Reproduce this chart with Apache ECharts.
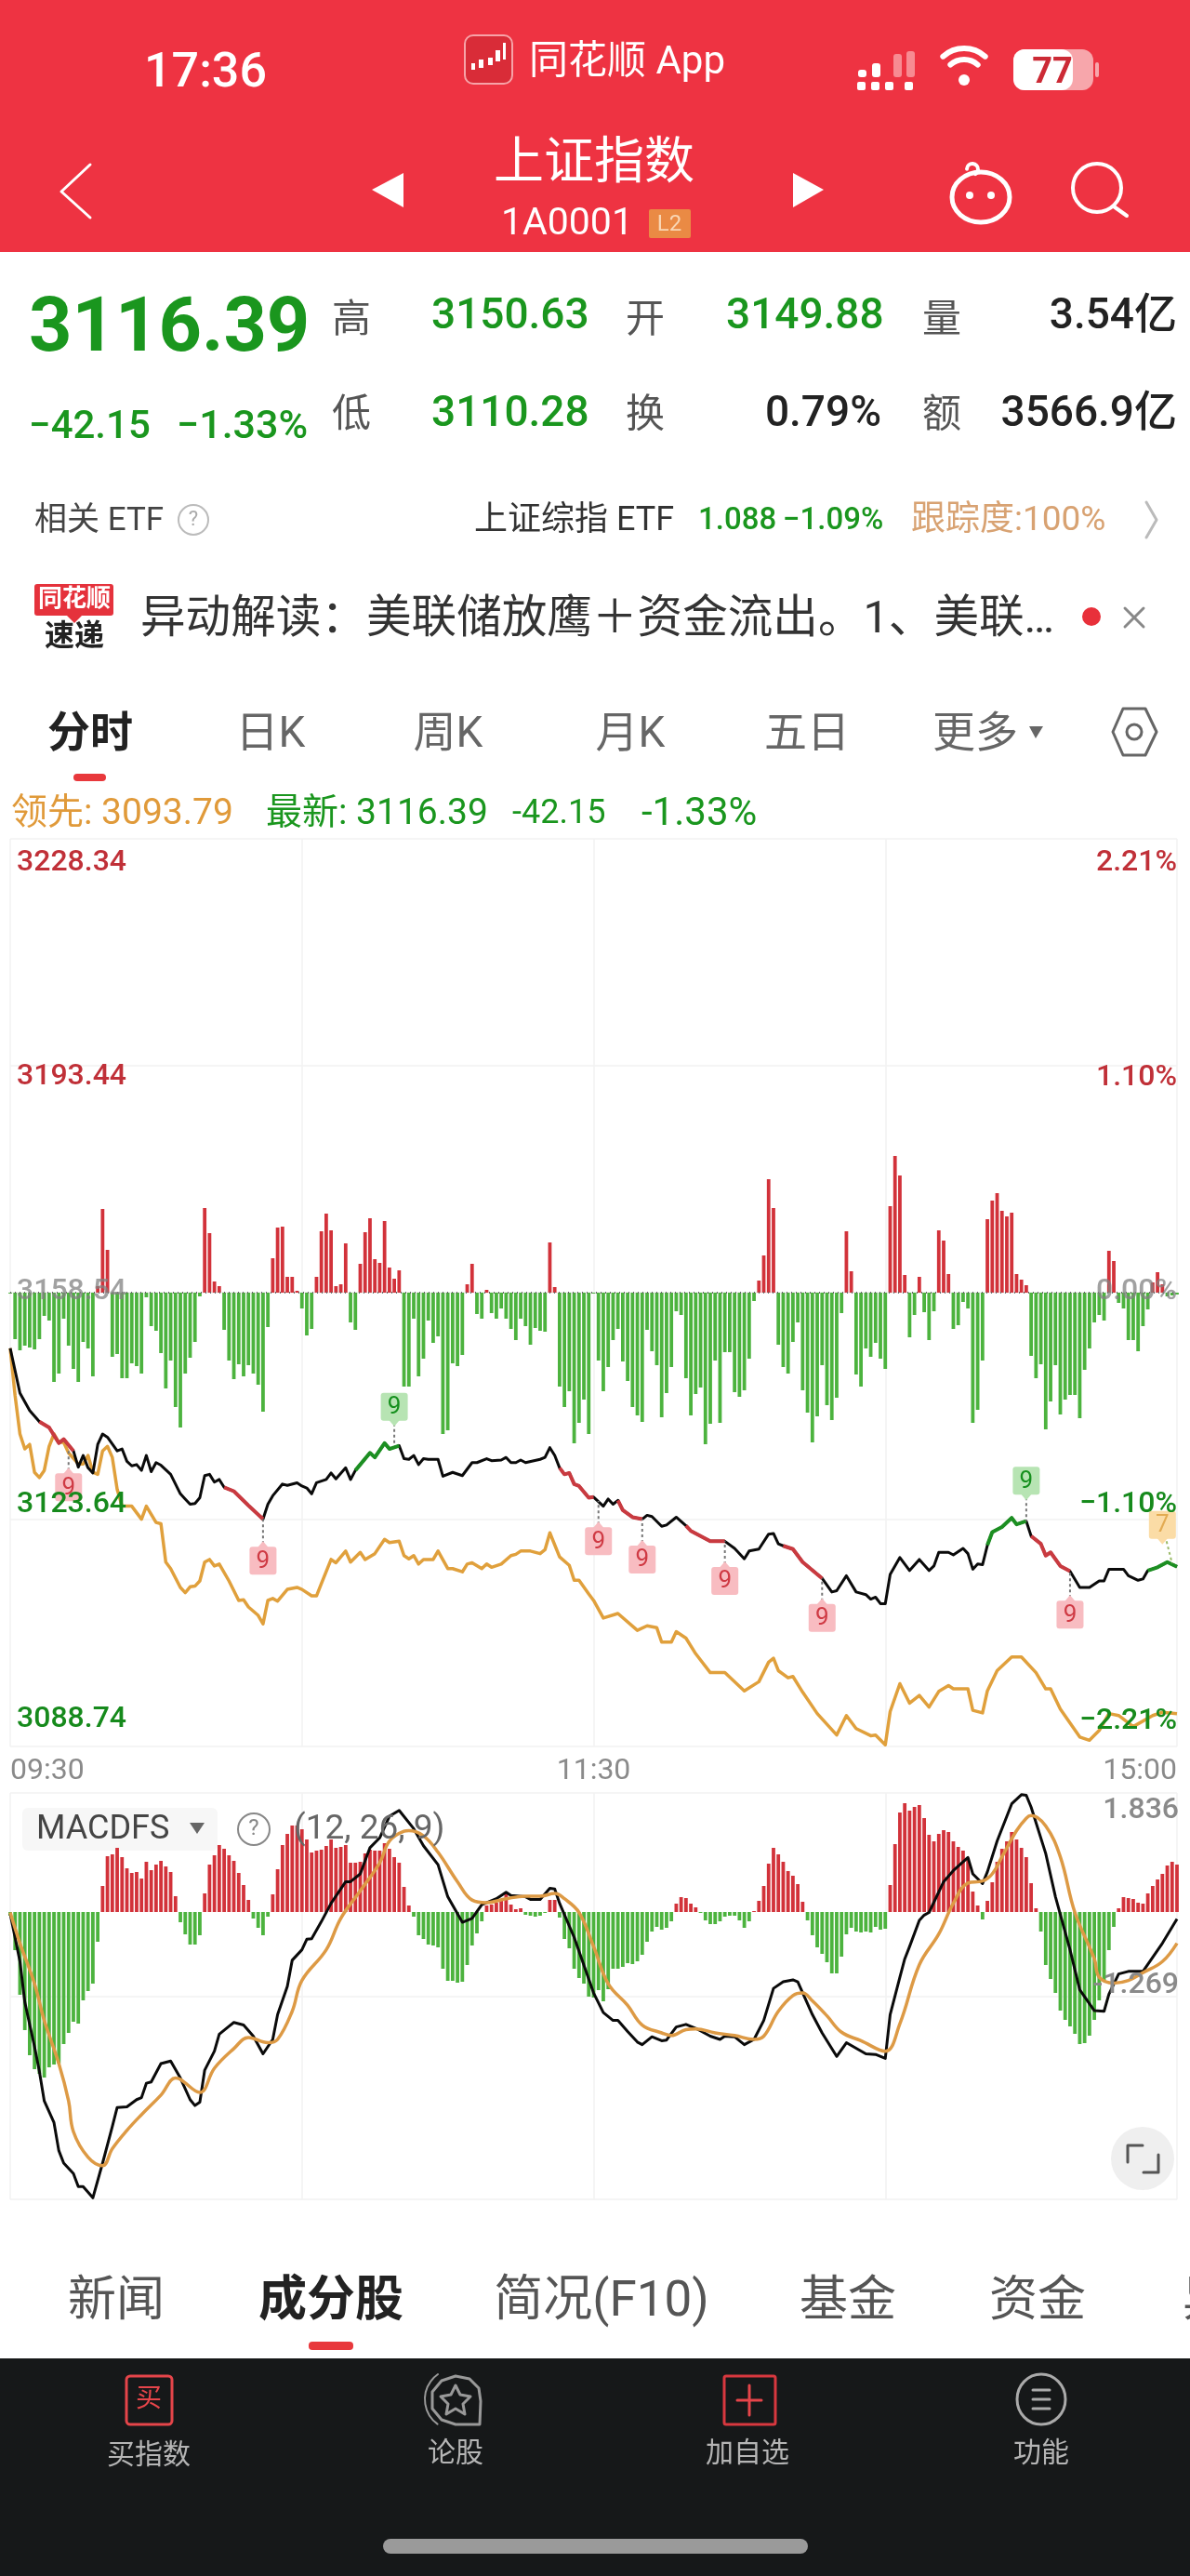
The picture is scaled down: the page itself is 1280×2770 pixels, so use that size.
<!DOCTYPE html>
<html lang="zh-CN">
<head>
<meta charset="UTF-8">
<title>上证指数 分时</title>
<script src="https://cdn.jsdelivr.net/npm/echarts@6/dist/echarts.min.js"></script>
<style>html,body{margin:0;padding:0;background:#fff}#chart{width:1280px;height:2770px}</style>
</head>
<body>
<div id="chart"></div>
<script>
// 分时价格 (minute since 09:30, price)
var blackMinutes=[0,2,4,6,8,10,11,13,14,15,16,17,18,19,20,22,23,24,25,26,27,28,29,30,31,33,35,36,37,38,39,40,41,42,43,44,46,49,52,53,54,56,57,59,60,61,62,63,65,66,67,69,70,71,74,75,77,78,80,81,82,83,84,85,86,88,89,91,93,95,96,98,99,101,102,103,104,105,106,109,110,111,112,113,114,115,116,117,119,
120,122,123,124,125,126,128,130,131,132,134,135,137,139,140,144,147,149,151,152,154,156,157,158,159,161,163,167,169,170,172,174,176,177,178,179,180,181,183,185,187,189,190,191,193,194,196,197,198,199,200,201,202,204,206,207,209,210,212,213,214,216,218,220,222,224,225,226,229,230,232,233,234,236,238,240]
var blackPrices=[3150.0,3143.1,3140.4,3138.7,3137.8,3135.4,3136.0,3134.2,3131.7,3133.5,3131.6,3130.8,3135.2,3136.8,3136.3,3134.2,3134.5,3132.6,3131.9,3132.1,3131.2,3133.5,3131.0,3132.4,3132.0,3130.6,3127.6,3126.8,3126.0,3126.1,3127.0,3130.4,3130.6,3129.4,3129.8,3128.6,3128.0,3125.8,3123.7,3126.0,3127.3,3129.1,3128.9,3129.3,3128.8,3128.5,3127.6,3129.3,3129.8,3130.8,3129.9,3131.6,3129.8,3131.2,3133.9,3133.2,3135.4,3134.5,3135.0,3133.0,3132.9,3133.5,3132.1,3133.0,3132.9,3132.9,3130.3,3130.9,3130.4,3132.4,3132.4,3133.0,3132.7,3132.8,3133.2,3132.4,3132.4,3132.8,3132.4,3132.9,3133.2,3134.7,3133.5,3131.6,3130.6,3130.8,3129.1,3128.8,3127.0,
3127.1,3125.7,3126.8,3126.0,3126.6,3125.1,3124.0,3123.7,3124.3,3124.1,3122.6,3122.8,3124.0,3122.7,3121.9,3120.3,3120.3,3119.2,3117.6,3118.8,3119.1,3121.4,3121.5,3119.9,3119.6,3119.1,3117.1,3114.6,3112.5,3112.7,3115.0,3112.5,3112.1,3111.4,3111.7,3110.7,3110.7,3115.2,3117.8,3115.8,3117.5,3115.8,3116.5,3118.6,3118.6,3118.2,3119.2,3118.4,3116.0,3116.8,3116.7,3119.7,3121.7,3122.5,3123.9,3122.9,3123.4,3121.1,3119.9,3118.1,3118.6,3116.5,3115.7,3113.2,3113.2,3114.2,3114.2,3116.0,3116.0,3115.0,3114.3,3114.5,3115.8,3116.3,3117.1,3116.39]
// 领先指标
var leadMinutes=[0,1,2,3,4,5,6,7,8,9,10,11,12,14,15,16,17,18,19,20,21,22,23,25,27,28,30,31,32,33,35,36,37,38,39,40,41,42,43,45,47,48,49,51,52,53,54,55,57,59,60,62,63,64,66,67,69,70,72,73,75,77,78,80,81,82,83,84,85,87,88,90,91,93,94,95,97,98,99,101,103,104,105,107,109,110,111,113,115,116,117,119,
120,122,125,129,131,133,134,136,137,139,141,144,147,151,154,156,157,158,160,161,163,166,170,172,174,177,178,180,181,183,185,187,189,191,193,194,197,198,200,201,203,206,208,211,213,214,216,220,222,224,226,228,231,235,237,240]
var leadPrices=[3150.0,3142.7,3136.8,3134.5,3135.2,3130.9,3130.1,3131.2,3134.9,3136.8,3135.5,3135.5,3133.9,3132.2,3132.2,3133.5,3130.9,3130.6,3134.2,3134.9,3133.2,3128.3,3125.7,3125.7,3123.7,3125.7,3123.2,3123.0,3117.1,3116.1,3113.2,3112.4,3113.3,3113.4,3114.2,3117.1,3117.5,3116.5,3116.8,3114.2,3111.2,3111.3,3110.2,3108.9,3107.6,3111.2,3111.5,3111.1,3112.9,3113.2,3112.9,3111.9,3111.9,3113.8,3117.5,3117.0,3118.8,3117.1,3118.6,3117.5,3118.4,3120.6,3120.1,3120.3,3118.1,3117.6,3118.1,3116.8,3117.5,3117.5,3118.8,3116.1,3116.1,3115.6,3116.8,3117.0,3116.1,3116.8,3116.3,3116.8,3118.1,3118.3,3118.8,3118.8,3118.4,3119.0,3121.6,3117.9,3116.6,3114.3,3114.3,3112.2,
3111.2,3108.5,3109.2,3106.6,3107.3,3107.0,3104.8,3104.8,3106.4,3105.4,3103.0,3100.1,3100.1,3097.3,3098.7,3101.7,3102.3,3100.4,3099.3,3099.5,3097.1,3093.8,3090.5,3093.5,3091.5,3090.4,3090.5,3089.0,3094.1,3098.4,3095.4,3096.6,3094.8,3097.2,3098.1,3097.6,3097.6,3094.3,3093.9,3097.3,3100.4,3102.5,3102.5,3100.1,3097.6,3097.6,3094.5,3090.2,3089.7,3091.2,3093.8,3093.5,3091.8,3093.5,3094.0,3093.79]
// 资金红绿柱, one per minute
var flowBars=[-1,-50,-62,-57,-59,-61,-50,-25,-30,-96,-87,-28,-57,-82,-96,-53,-60,-90,7,90,46,-69,-66,-92,-92,-76,-79,-87,-5,-36,-41,-65,-103,-73,-123,-145,-87,-70,-53,-4,91,64,12,7,-40,-73,-93,-77,-90,-78,-87,-99,-128,-37,37,70,71,17,17,2,-17,-46,-39,17,66,85,67,7,9,53,-32,-40,31,65,80,36,32,77,27,15,24,-101,-101,-28,-90,-71,-30,-54,-47,-152,-148,-76,-79,-67,9,31,-23,-28,3,-22,-28,-17,-28,-39,-51,-28,-36,-56,-38,-41,-42,54,6,-101,-123,-106,-162,-140,-115,-152,-1,
-73,-106,-80,-51,-39,-74,-95,-123,-132,-139,-40,-63,-78,-134,-108,-80,-20,-24,-92,-132,-109,-102,-163,-141,-73,-140,-64,-64,-107,-112,-105,-71,-9,13,40,122,91,-56,-80,-87,-53,-32,-105,-129,-161,-133,-78,-121,-137,-113,-22,66,23,-88,-101,-60,-69,-54,-71,-82,93,147,126,19,-48,-24,17,-21,-51,-20,67,56,20,-39,-35,-10,-17,-140,-126,-73,79,99,107,88,82,86,20,14,8,-68,-92,-77,-147,-117,-78,-131,-115,-110,-110,-135,-83,-60,-32,-24,-30,45,34,-11,-17,-51,-51,-63,-36,-18,11,22,9,-4,-3,-2]
// 九转标记
var tagMinutes=[12,52,79,121,130,147,167,209,218,237]
var tagPrices=[3134.5,3123.7,3135.0,3126.5,3123.7,3120.3,3114.6,3123.4,3115.7,3116.9]
var tagLevels=[3128.6,3117.3,3141.0,3120.3,3117.5,3114.2,3108.5,3129.6,3109.0,3122.8]
var tagDigits=['9','9','9','9','9','9','9','9','9','7']
var tagKinds=['down','down','up','down','down','down','down','up','down','lead']
// 黑线上的红绿段 [from,to]
var redRuns=[[5,13],[44,52],[113,121],[125,130],[139,147],[159,167],[210,218]]
var greenRuns=[[71,80],[201,209],[234,240]]
// MACD
var difMinutes=[0,2,3,5,6,7,9,10,11,13,14,15,17,19,21,22,24,26,27,28,29,31,33,35,37,38,39,40,42,43,45,46,48,50,52,54,55,57,58,60,61,62,64,66,69,70,72,74,76,78,80,83,85,88,90,93,95,97,100,102,103,106,107,109,111,112,113,116,
120,122,124,125,127,129,130,132,134,135,137,139,141,144,146,147,149,151,153,155,157,159,161,162,165,167,170,172,176,178,180,181,183,184,185,187,188,189,192,194,197,198,200,201,203,206,208,209,210,213,215,218,220,223,225,226,228,230,233,237,240]
var difValues=[-0.01,-0.74,-1.36,-2.04,-2.42,-2.87,-3.20,-3.63,-3.82,-3.98,-4.18,-4.18,-4.35,-3.82,-3.26,-2.97,-2.96,-2.85,-2.82,-2.60,-2.58,-2.30,-2.26,-2.52,-2.85,-2.94,-2.89,-2.40,-2.11,-1.85,-1.73,-1.67,-1.71,-1.88,-2.15,-1.93,-1.55,-1.12,-0.72,-0.56,-0.40,-0.39,-0.13,0.15,0.48,0.48,0.60,1.00,1.15,1.48,1.57,1.29,1.03,0.74,0.25,-0.14,-0.08,0.13,0.22,0.32,0.27,0.25,0.21,0.21,0.38,0.37,0.15,-0.37,
-1.22,-1.52,-1.64,-1.64,-1.81,-1.97,-2.01,-1.89,-1.95,-1.94,-1.74,-1.70,-1.76,-1.88,-1.93,-1.88,-1.89,-2.01,-1.93,-1.64,-1.15,-1.05,-1.02,-1.05,-1.55,-1.83,-2.19,-1.98,-2.15,-2.16,-2.22,-1.55,-0.98,-0.70,-0.51,-0.11,-0.03,0.01,0.48,0.65,0.85,0.60,0.45,0.63,1.10,1.67,1.81,1.80,1.62,0.91,0.25,-0.56,-1.17,-1.49,-1.50,-1.24,-0.93,-0.89,-0.89,-0.46,-0.09]
var deaMinutes=[0,2,5,7,10,12,13,16,19,21,24,27,31,34,35,39,42,46,49,53,55,58,60,65,68,72,76,78,81,82,85,88,92,95,98,102,106,109,112,114,117,
120,123,127,130,134,136,139,141,145,149,153,155,158,161,163,165,168,171,175,180,183,187,191,194,197,200,202,204,207,209,210,213,216,219,223,224,227,230,233,237,240]
var deaValues=[0.01,-0.46,-1.08,-1.64,-2.30,-2.87,-3.34,-3.73,-3.86,-3.60,-3.32,-3.08,-2.78,-2.52,-2.54,-2.74,-2.37,-2.07,-1.90,-1.98,-1.93,-1.50,-1.03,-0.56,-0.08,0.34,0.77,1.10,1.25,1.26,1.18,0.93,0.48,0.20,0.16,0.22,0.26,0.26,0.30,0.22,0.01,
-0.51,-1.08,-1.41,-1.71,-1.83,-1.87,-1.78,-1.77,-1.83,-1.87,-1.93,-1.88,-1.50,-1.26,-1.22,-1.34,-1.57,-1.82,-1.95,-2.11,-1.69,-0.79,-0.32,0.15,0.46,0.49,0.60,0.86,1.26,1.45,1.49,1.33,0.86,0.01,-0.70,-0.98,-1.07,-1.03,-0.91,-0.74,-0.46]
var macdBars=[-4,-41,-89,-127,-154,-169,-174,-178,-167,-164,-163,-142,-130,-118,-120,-95,-85,-77,-32,28,60,62,69,59,47,42,43,36,54,45,51,55,49,43,17,-11,-24,-35,-35,-25,20,51,61,72,68,61,55,42,29,13,-7,-17,-25,-5,19,46,72,84,93,93,89,78,64,66,67,71,78,69,70,72,53,53,54,63,67,66,66,74,68,59,53,27,7,-5,-25,-29,-35,-36,-38,-61,-74,-74,-76,-75,-57,-36,-23,-10,7,8,10,13,20,8,3,4,-3,-4,-5,-4,-1,13,13,-6,-29,-39,-61,-71,-77,-91,-92,
-84,-96,-83,-61,-61,-59,-55,-56,-53,-46,-32,-21,-16,-19,-17,-10,9,16,15,9,5,-1,-9,-13,-13,-10,-5,-4,-4,-9,-17,-10,1,12,28,52,69,62,54,44,39,30,11,-9,-25,-38,-45,-54,-66,-66,-48,-24,-17,-21,-22,-21,-22,-16,-19,-18,29,73,107,117,109,113,115,101,83,76,84,88,86,76,70,66,58,22,7,-8,12,32,54,68,76,86,78,69,59,31,4,-21,-57,-72,-87,-106,-116,-123,-131,-142,-141,-133,-116,-95,-74,-41,-16,4,16,15,14,10,9,20,28,35,41,50,54,51]
// 刻度
var priceTicks=[3088.74,3123.64,3158.54,3193.44,3228.34]
var pctTicks=[-2.21,-1.10,0,1.10,2.21]
var macdTicks=[1.836,-1.269]
var timeTicks=[0,120,240]
var timeLabels=['09:30','11:30','15:00']

var RED='#d2323a',GREEN='#4cb33e',DARKGREEN='#168a1c',TEXTRED='#c03038',ORANGE='#e0a03c'
var FONT='Roboto,"Noto Sans CJK SC",sans-serif'

function zip(a,b){return a.map(function(v,i){return [v,b[i]]})}
function between(pts,run){return pts.filter(function(p){return p[0]>=run[0]&&p[0]<=run[1]})}

var blackPts=zip(blackMinutes,blackPrices)

function lineSeries(name,data,color,width,xi,yi,z,smooth){
    return {name:name,type:'line',xAxisIndex:xi,yAxisIndex:yi,data:data,showSymbol:false,symbol:'none',z:z,smooth:smooth||false,
        lineStyle:{color:color,width:width,join:'round'},silent:true,clip:false}
}
function barSeries(name,values,xi,yi,width){
    return {name:name,type:'bar',xAxisIndex:xi,yAxisIndex:yi,barWidth:width,clip:false,silent:true,
        data:values.map(function(v,i){return {value:[i,v],itemStyle:{color:v>=0?RED:GREEN}}})}
}

var series=[]
var flow=barSeries('资金',flowBars,0,2,3.8)
flow.markLine={silent:true,symbol:'none',label:{show:false},lineStyle:{color:'#666',type:[1,4],width:2},data:[{yAxis:0}]}
series.push(flow)
series.push(lineSeries('领先',zip(leadMinutes,leadPrices),ORANGE,3.5,0,0,3))
series.push(lineSeries('最新',blackPts,'#0a0a0a',3,0,0,4))
redRuns.forEach(function(r){series.push(lineSeries('跌段',between(blackPts,r),'#c93a40',4,0,0,5))})
greenRuns.forEach(function(r){series.push(lineSeries('涨段',between(blackPts,r),'#1c8f22',4,0,0,5))})

var tagStyle={down:{fill:'#f8bcc1',text:'#cf3a44',stem:'#777'},up:{fill:'#b7e4b3',text:'#16901e',stem:'#777'},lead:{fill:'#fbdca6',text:'#e3ab52',stem:'#9bbb6a'}}
series.push({name:'九转',type:'custom',xAxisIndex:0,yAxisIndex:0,z:6,silent:true,clip:false,
    data:zip(tagMinutes,tagLevels),
    encode:{x:0,y:1},
    renderItem:function(params,api){
        var i=params.dataIndex,s=tagStyle[tagKinds[i]]
        var tag=api.coord([tagMinutes[i],tagLevels[i]])
        var end=api.coord([tagMinutes[i]+(tagKinds[i]=='lead'?2:0),tagPrices[i]])
        var dir=end[1]>tag[1]?1:-1
        return {type:'group',children:[
            {type:'line',shape:{x1:tag[0],y1:tag[1],x2:end[0],y2:end[1]},style:{stroke:s.stem,lineWidth:2,lineDash:[3,3]}},
            {type:'polygon',shape:{points:[[tag[0]-6,tag[1]+dir*14],[tag[0]+6,tag[1]+dir*14],[tag[0],tag[1]+dir*21]]},style:{fill:s.fill}},
            {type:'rect',shape:{x:tag[0]-14.5,y:tag[1]-15,width:29,height:30,r:3},style:{fill:s.fill}},
            {type:'text',style:{x:tag[0],y:tag[1]+1,text:tagDigits[i],fill:s.text,font:'26px '+FONT,textAlign:'center',textVerticalAlign:'middle'}}
        ]}
    }})
series.push(barSeries('MACD',macdBars,1,4,3.8))
series.push(lineSeries('DIF',zip(difMinutes,difValues),'#0a0a0a',3,1,3,4))
series.push(lineSeries('DEA',zip(deaMinutes,deaValues),'#dd9a45',3.5,1,3,5,0.4))

// page chrome drawn with graphic elements
var g=[]
function T(x,y,text,size,color,align,weight,z){
    g.push({type:'text',x:x,y:y+9,z:z||1,silent:true,style:{text:text,fill:color,font:(weight||'normal')+' '+size+'px '+FONT,textAlign:align||'left',textVerticalAlign:'middle'}})
}
function S(type,shape,style,z){g.push({type:type,shape:shape,style:style,z:z||1,silent:true})}
var W='#fff'
function stroke(c,w){return {stroke:c,lineWidth:w,fill:'none',lineCap:'round',lineJoin:'round'}}

// red header
S('rect',{x:0,y:0,width:1280,height:271},{fill:'#ee3342'})
T(221,71,'17:36',52,W,'center','500')
S('rect',{x:500,y:38,width:51,height:52,r:9},{fill:'#d92c38',stroke:'#f7a3a8',lineWidth:2})
S('rect',{x:507,y:68,width:4,height:7},{fill:W});S('rect',{x:515,y:64,width:5,height:9},{fill:W});S('rect',{x:525,y:62,width:5,height:8},{fill:W});S('rect',{x:533,y:54,width:5,height:12},{fill:W});S('rect',{x:541,y:46,width:3,height:18},{fill:W})
T(569,59,'同花顺 App',42,W)
;[[923,75],[938,68],[961,58],[975,55]].forEach(function(b,i){S('rect',{x:b[0],y:b[1],width:9,height:83-b[1],r:3},{fill:i>1?'#f78b92':W})})
;[923,938,953,974].forEach(function(x){S('rect',{x:x-1,y:88,width:9,height:9,r:2},{fill:W})})
S('arc',{cx:1037,cy:86,r:34,startAngle:-2.3,endAngle:-0.84},stroke(W,6));S('arc',{cx:1037,cy:86,r:22,startAngle:-2.3,endAngle:-0.84},stroke(W,6));S('circle',{cx:1037,cy:86,r:6},{fill:W})
S('rect',{x:1090,y:53,width:86,height:44,r:12},{fill:'#f7a6ab'});S('rect',{x:1090,y:53,width:64,height:44,r:12},{fill:W});S('rect',{x:1178,y:67,width:4,height:16,r:2},{fill:'#f7a6ab'})
T(1132,70,'77',38,'#cc2a35','center','bold')
T(639,169,'上证指数',54,W,'center')
T(539,233,'1A0001',41,W)
S('rect',{x:698,y:225,width:45,height:31,r:2},{fill:'#ea8a44'});T(720,233,'L2',24,'#f9d6b4','center')
S('polyline',{points:[[97,177],[66,206],[97,234]]},stroke(W,3))
S('polygon',{points:[[434,186],[400,204],[434,223]]},{fill:W});S('polygon',{points:[[853,186],[886,204],[853,223]]},{fill:W})
S('ellipse',{cx:1055,cy:212,rx:31,ry:27},stroke(W,5));S('circle',{cx:1043,cy:210,r:4},{fill:W});S('circle',{cx:1066,cy:210,r:4},{fill:W});S('arc',{cx:1046,cy:182,r:6,startAngle:3.2,endAngle:1},stroke(W,4))
S('circle',{cx:1180,cy:202,r:26},stroke(W,4));S('line',{x1:1198,y1:222,x2:1212,y2:232},stroke(W,4))

// quote block
var TG='#1a961e',TD='#222'
T(31,348,'3116.39',81,TG,'left','bold')
T(31,451,'−42.15',42,TG,'left','500');T(190,451,'−1.33%',43,TG,'left','500')
T(357,337,'高',42,'#555');T(357,439,'低',42,'#555');T(673,337,'开',42,'#555');T(673,439,'换',42,'#555');T(992,337,'量',42,'#555');T(992,439,'额',42,'#555')
T(464,332,'3150.63',46,TG,'left','500');T(464,437,'3110.28',46,TG,'left','500')
T(781,332,'3149.88',46,TG,'left','500');T(948,437,'0.79%',46,TD,'right','500')
T(1266,332,'3.54亿',46,TD,'right','500');T(1266,437,'3566.9亿',46,TD,'right','500')
// ETF row
T(37,552,'相关 ETF',35,'#444');S('circle',{cx:208,cy:559,r:16},stroke('#bbb',2));T(208,550,'?',22,'#aaa','center')
T(510,552,'上证综指 ETF',36,'#333');T(751,552,'1.088',33,TG,'left','500');T(842,552,'−1.09%',33,TG,'left','500');T(980,552,'跟踪度:100%',37,'#d8a272')
S('polyline',{points:[[1233,540],[1244,559],[1233,578]]},stroke('#bbb',3))
// news row
S('rect',{x:37,y:628,width:85,height:34,r:3},{fill:'#e5323c'});S('polygon',{points:[[72,662],[88,662],[80,670]]},{fill:'#e5323c'})
T(80,636,'同花顺',26,W,'center','bold');T(80,677,'速递',32,'#222','center','bold')
T(151,659,'异动解读：美联储放鹰＋资金流出。1、美联…',48.6,'#333')
S('circle',{cx:1174,cy:663,r:10},{fill:'#e8303a'});S('line',{x1:1210,y1:654,x2:1230,y2:674},stroke('#888',3));S('line',{x1:1230,y1:654,x2:1210,y2:674},stroke('#888',3))
// chart tabs
T(97,782,'分时',46,'#222','center','bold');[['日K',291],['周K',482],['月K',678],['五日',868],['更多',1049]].forEach(function(t){T(t[1],782,t[0],46,'#666','center')})
S('polygon',{points:[[1107,781],[1122,781],[1114,794]]},{fill:'#666'})
S('polygon',{points:[[1197,787],[1208,762],[1232,762],[1244,787],[1232,812],[1208,812]]},stroke('#666',3));S('circle',{cx:1220,cy:787,r:8},stroke('#666',3))
S('rect',{x:79,y:832,width:35,height:8,r:4},{fill:'#e8383c'})
T(12,867,'领先: 3093.79',39,'#e09a3a');T(286,867,'最新: 3116.39',39,TG);T(551,867,'-42.15',36,TG);T(690,867,'-1.33%',42,TG)
// MACD header
S('rect',{x:24,y:1944,width:210,height:46,r:6},{fill:'rgba(240,240,240,0.55)'},2)
T(39,1959,'MACDFS',36,'#444','left','normal',2);S('polygon',{points:[[204,1960],[220,1960],[212,1972]]},{fill:'#666'},2)
S('circle',{cx:273,cy:1967,r:17},stroke('#888',2),2);T(273,1958,'?',24,'#888','center','normal',2);T(316,1959,'(12, 26, 9)',37,'#666','left','normal',20)
// expand button
S('circle',{cx:1229,cy:2321,r:34},{fill:'#efefef'},2)
S('polyline',{points:[[1213,2325],[1213,2307],[1229,2307]]},stroke('#555',3),2);S('polyline',{points:[[1246,2317],[1246,2336],[1230,2336]]},stroke('#555',3),2)
// lower tabs
T(125,2468,'新闻',52,'#555','center');T(356,2468,'成分股',52,'#222','center','bold');T(647,2468,'简况(F10)',53,'#555','center');T(912,2468,'基金',52,'#555','center');T(1116,2468,'资金',52,'#555','center');T(1272,2468,'异',52,'#555')
S('rect',{x:332,y:2518,width:48,height:9,r:4},{fill:'#e8383c'})
// dark bar
S('rect',{x:0,y:2536,width:1280,height:234},{fill:'#161819'})
S('rect',{x:136,y:2555,width:49,height:52,r:4},{fill:'none',stroke:'#e5454a',lineWidth:3});T(160,2572,'买',28,'#e5454a','center')
S('polyline',{points:[[517,2582],[515,2568],[505,2558],[490,2555],[475,2560],[465,2572],[465,2590],[475,2602],[490,2607],[516,2607],[517,2582]]},stroke('#999',3))
S('arc',{cx:490,cy:2580,r:33,startAngle:2.2,endAngle:4.1},stroke('#999',2))
S('polygon',{points:[[490,2565],[495,2575],[506,2577],[498,2585],[500,2596],[490,2590],[480,2596],[482,2585],[474,2577],[485,2575]]},stroke('#999',3))
S('rect',{x:779,y:2555,width:55,height:52,r:2},{fill:'none',stroke:'#d8383f',lineWidth:3});S('line',{x1:806,y1:2565,x2:806,y2:2597},stroke('#e5454a',3));S('line',{x1:793,y1:2581,x2:819,y2:2581},stroke('#e5454a',3))
S('ellipse',{cx:1120,cy:2580,rx:26,ry:27},stroke('#aaa',3));[2570,2580,2590].forEach(function(y){S('line',{x1:1111,y1:y,x2:1129,y2:y},stroke('#aaa',3))})
T(160,2632,'买指数',30,'#b5b5b5','center');T(490,2630,'论股',30,'#b5b5b5','center');T(804,2630,'加自选',30,'#b5b5b5','center');T(1120,2630,'功能',30,'#b5b5b5','center')
S('rect',{x:412,y:2730,width:457,height:16,r:8},{fill:'#9a9a9a'})

var splitStyle={show:true,lineStyle:{color:'#f2f2f2',width:1.5}}
var priceRich={p3228:{color:TEXTRED,padding:[52,0,0,0]},p3193:{color:TEXTRED,padding:[24,0,0,0]},p3158:{color:'rgba(130,130,130,0.75)',padding:[0,0,2,0]},p3123:{color:DARKGREEN,padding:[0,0,32,0]},p3088:{color:DARKGREEN,padding:[0,0,58,0]}}
var pctRich={a:{color:TEXTRED,padding:[52,0,0,0]},b:{color:TEXTRED,padding:[24,0,0,0]},c:{color:'rgba(130,130,130,0.75)',padding:[0,0,2,0]},d:{color:DARKGREEN,padding:[0,0,30,0]},e:{color:DARKGREEN,padding:[0,0,54,0]}}
var macdRich={hi:{color:'#8a8a8a',padding:[38,0,0,0]},lo:{color:'#8a8a8a',padding:[0,0,24,0]}}
var pctKey={'2.21':'a','1.10':'b','0.00':'c','-1.10':'d','-2.21':'e'}
function sized(r){var o={};Object.keys(r).forEach(function(k){o[k]=Object.assign({fontSize:32,fontWeight:500},r[k])});return o}
function hiddenY(grid,min,max,extra){
    return Object.assign({type:'value',gridIndex:grid,min:min,max:max,axisLine:{show:false},axisTick:{show:false},axisLabel:{show:false},splitLine:{show:false}},extra||{})
}

var option={
    animation:false,
    backgroundColor:'#fff',
    textStyle:{fontFamily:FONT},
    graphic:{elements:g},
    grid:[
        {left:11,right:14,top:902,height:976},
        {left:11,right:14,top:1928,height:437}
    ],
    xAxis:[
        {type:'value',gridIndex:0,min:0,max:240,interval:60,axisLine:{show:false},axisTick:{show:false},splitLine:splitStyle,
            axisLabel:{customValues:timeTicks,color:'#8a8a8a',fontSize:32,margin:11,alignMinLabel:'left',alignMaxLabel:'right',
                formatter:function(v){return timeLabels[timeTicks.indexOf(v)]}}},
        {type:'value',gridIndex:1,min:0,max:240,interval:60,axisLine:{show:false},axisTick:{show:false},splitLine:splitStyle,axisLabel:{show:false}}
    ],
    yAxis:[
        {type:'value',gridIndex:0,min:priceTicks[0],max:priceTicks[4],position:'left',z:10,axisLine:{show:false},axisTick:{show:false},splitLine:{show:false},
            axisLabel:{inside:true,margin:7,fontSize:32,customValues:priceTicks,verticalAlign:'middle',
                formatter:function(v){return '{p'+Math.floor(v)+'|'+v.toFixed(2)+'}'},
                rich:sized(priceRich)}},
        {type:'value',gridIndex:0,min:-2.21,max:2.21,position:'right',z:10,axisLine:{show:false},axisTick:{show:false},splitLine:{show:false},
            axisLabel:{inside:true,margin:0,fontSize:32,customValues:pctTicks,verticalAlign:'middle',
                formatter:function(v){var k=v.toFixed(2);return '{'+pctKey[k]+'|'+k.replace('-','−')+'%}'},
                rich:sized(pctRich)}},
        hiddenY(0,-488,488,{interval:244,splitLine:splitStyle}),
        {type:'value',gridIndex:1,min:-4.374,max:1.836,position:'right',z:10,axisLine:{show:false},axisTick:{show:false},splitLine:{show:false},
            axisLabel:{inside:true,margin:-2,fontSize:32,customValues:macdTicks,verticalAlign:'middle',
                formatter:function(v){return '{'+(v>0?'hi':'lo')+'|'+v.toFixed(3)+'}'},
                rich:sized(macdRich)}},
        hiddenY(1,-309,128),
        hiddenY(1,-1,1,{interval:1,splitLine:splitStyle})
    ],
    series:series
}
var chart=echarts.init(document.getElementById('chart'))
chart.setOption(option)
</script>
</body>
</html>
